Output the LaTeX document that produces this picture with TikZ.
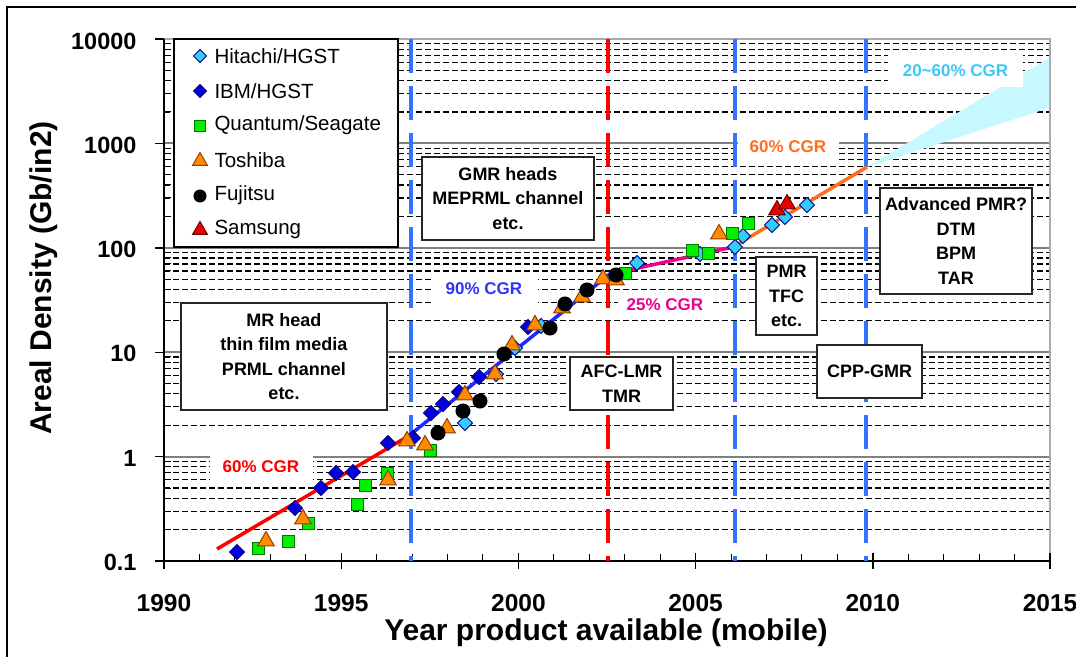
\documentclass[tikz,border=0pt]{standalone}
\usepackage{fontspec}
\setmainfont{Liberation Sans}
\usetikzlibrary{shapes.geometric}

\definecolor{hitachiFill}{RGB}{51,204,255}
\definecolor{hitachiEdge}{RGB}{0,0,130}
\definecolor{ibmFill}{RGB}{0,0,225}
\definecolor{ibmEdge}{RGB}{0,0,110}
\definecolor{quantumFill}{RGB}{0,240,0}
\definecolor{quantumEdge}{RGB}{0,120,0}
\definecolor{toshibaFill}{RGB}{255,140,0}
\definecolor{toshibaEdge}{RGB}{150,60,0}
\definecolor{samsungFill}{RGB}{230,0,0}
\definecolor{samsungEdge}{RGB}{110,0,0}
\definecolor{eraBlue}{RGB}{50,115,255}
\definecolor{trendBlue}{RGB}{30,40,255}
\definecolor{trendOrange}{RGB}{255,110,30}
\definecolor{fanCyan}{RGB}{200,248,255}
\definecolor{cgrCyan}{RGB}{60,200,250}
\definecolor{cgrBlue}{RGB}{50,50,255}
\definecolor{frameGray}{RGB}{170,170,170}

\tikzset{
  gridminor/.style={black, line width=1.2pt, dash pattern=on 6pt off 3pt},
  gridmajor/.style={gray, line width=2pt},
  eraline/.style={line width=4pt, dash pattern=on 34pt off 13pt},
  trend/.style={line width=3.5pt},
  mk/.style={inner sep=0pt, outer sep=0pt, line width=1pt},
  hitachi/.style={mk, diamond, aspect=1, minimum size=15pt, fill=hitachiFill, draw=hitachiEdge},
  ibm/.style={mk, diamond, aspect=1, minimum size=15pt, fill=ibmFill, draw=ibmEdge},
  quantum/.style={mk, rectangle, minimum size=12pt, fill=quantumFill, draw=quantumEdge},
  toshiba/.style={mk, regular polygon, regular polygon sides=3, minimum size=19pt, fill=toshibaFill, draw=toshibaEdge},
  fujitsu/.style={mk, circle, minimum size=14pt, fill=black, draw=black},
  samsung/.style={mk, regular polygon, regular polygon sides=3, minimum size=19pt, fill=samsungFill, draw=samsungEdge},
  infobox/.style={draw=black!85, line width=1.5pt, fill=white, align=center, inner sep=0pt,
    font=\fontsize{18}{24.5}\selectfont\bfseries},
  cgr/.style={fill=white, inner sep=0pt, font=\fontsize{17}{17}\selectfont\bfseries},
  ytick/.style={anchor=east, font=\fontsize{23.5}{23.5}\selectfont\bfseries},
  xtick/.style={font=\fontsize{24.5}{24.5}\selectfont\bfseries},
  axistitle/.style={font=\fontsize{30}{30}\selectfont\bfseries},
  legendtext/.style={anchor=west, font=\fontsize{20.5}{20.5}\selectfont},
}

\begin{document}
\begin{tikzpicture}[x=1pt, y=-1pt]
\useasboundingbox (0,0) rectangle (1076,656);
\fill[white] (0,0) rectangle (1076,656);

% outer frame
\draw[line width=2.2pt] (7,660) -- (7,7) -- (1080,7);

% horizontal grid: dashed minor lines and solid decade lines
\foreach \d in {0,...,4}{
  \foreach \m in {2,...,9}{
    \pgfmathsetmacro\yy{561-104.4*(\d+log10(\m))}
    \draw[gridminor] (164,\yy) -- (1050,\yy);
    \draw[black, line width=1pt] (164,\yy) -- (171,\yy);
  }
}
\foreach \yy in {456.6,352.2,247.8,143.4}{
  \draw[gridmajor] (164,\yy) -- (1050,\yy);
}

% plot frame and axes
\draw[frameGray, line width=2pt] (164,39) -- (1050,39) -- (1050,561);
\draw[black, line width=1.4pt] (164,39) -- (164,561) -- (1050,561);
\foreach \yy in {39,143.4,247.8,352.2,456.6,561}{
  \draw[black, line width=1.4pt] (155,\yy) -- (164,\yy);
}
\foreach \k in {0,...,25}{
  \pgfmathsetmacro\xx{164+35.44*\k}
  \pgfmathtruncatemacro\r{mod(\k,5)}
  \ifnum\r=0
    \draw[black, line width=1.4pt] (\xx,553) -- (\xx,569);
  \else
    \draw[black, line width=1pt] (\xx,554) -- (\xx,561);
  \fi
}

% technology era boundaries
\draw[eraline, eraBlue] (411,39) -- (411,561);
\draw[eraline, red] (608,39) -- (608,561);
\draw[eraline, eraBlue] (735,39) -- (735,561);
\draw[eraline, eraBlue] (866,39) -- (866,561);

% projected growth fan
\fill[fanCyan] (867,167) -- (1049,58) -- (1049,108) -- cycle;

% growth trend lines
\draw[trend, red] (217,549) -- (412,434);
\draw[trend, trendBlue] (411,434) -- (611,273);
\draw[trend, magenta] (611,274) -- (733,247);
\draw[trend, trendOrange] (733,247) -- (867,167);

% data points
\foreach \p [count=\i] in {(465,423),(496,374),(515,348),(541,326),(637,263),(700,254),(735,247),(743,236),(772,225),(785,217),(807,205)}
  \node[hitachi] (hit-\i) at \p {};
\foreach \p [count=\i] in {(237,552),(295,508),(321,488),(336,473),(353,472),(388,443),(413,438),(431,413),(443,404),(459,392),(479,377),(528,327)}
  \node[ibm] (ibm-\i) at \p {};
\foreach \p [count=\i] in {(258,548),(288,541),(308,523),(357,504),(365,485),(387,473),(430,450),(625,273),(692,250),(708,253),(732,233),(748,223)}
  \node[quantum] (qua-\i) at \p {};
\foreach \p [count=\i] in {(266,541),(303,519),(388,480),(407,441),(425,445),(447,428),(465,395),(495,374),(512,345),(535,325),(562,308),(582,297),(603,279),(616,280),(719,234)}
  \node[toshiba] (tos-\i) at \p {};
\foreach \p [count=\i] in {(438,433),(463,411),(480,401),(504,354),(550,328),(565,304),(587,290),(616,275)}
  \node[fujitsu] (fuj-\i) at \p {};
\foreach \p [count=\i] in {(777,210),(787,204)}
  \node[samsung] (sam-\i) at \p {};

% growth-rate labels
\node[cgr, text=red, minimum width=103pt, minimum height=25pt] (cgr-red) at (261,467) {60\% CGR};
\node[cgr, text=cgrBlue, minimum width=107pt, minimum height=27pt] (cgr-blue) at (484,289) {90\% CGR};
\node[cgr, text=magenta, minimum width=95pt, minimum height=24pt] (cgr-mag) at (665,305) {25\% CGR};
\node[cgr, text=trendOrange, minimum width=101pt, minimum height=30pt] (cgr-orange) at (788,147) {60\% CGR};
\node[cgr, text=cgrCyan, minimum width=135pt, minimum height=32pt] (cgr-cyan) at (955.5,71) {20\textasciitilde60\% CGR};

% technology boxes
\node[infobox, minimum width=206pt, minimum height=107pt] (mr) at (284,356.5) {MR head\\thin film media\\PRML channel\\etc.};
\node[infobox, minimum width=172pt, minimum height=83pt] (gmr) at (508,198.5) {GMR heads\\MEPRML channel\\etc.};
\node[infobox, minimum width=103pt, minimum height=53pt] (afc) at (621.5,383.5) {AFC-LMR\\TMR};
\node[infobox, minimum width=105pt, minimum height=53pt] (cpp) at (869.5,371.5) {CPP-GMR};
\node[infobox, minimum width=61pt, minimum height=78pt] (pmr) at (786.5,296) {PMR\\TFC\\etc.};
\node[infobox, minimum width=152pt, minimum height=106pt] (adv) at (956,241) {Advanced PMR?\\DTM\\BPM\\TAR};

% legend
\draw[black, line width=1.3pt, fill=white] (174,39) rectangle (398,247);
\node[hitachi, minimum size=13pt] (leg-hit) at (200,56) {};
\node[legendtext] (leg-hit-t) at (211,56) {Hitachi/HGST};
\node[ibm, minimum size=13pt] (leg-ibm) at (200,91) {};
\node[legendtext] (leg-ibm-t) at (211,91) {IBM/HGST};
\node[quantum, minimum size=11pt] (leg-qua) at (200,126) {};
\node[legendtext] (leg-qua-t) at (211,125) {Quantum/Seagate};
\node[toshiba, minimum size=17pt] (leg-tos) at (200,161) {};
\node[legendtext] (leg-tos-t) at (211,160) {Toshiba};
\node[fujitsu, minimum size=12pt] (leg-fuj) at (200,196) {};
\node[legendtext] (leg-fuj-t) at (211,195) {Fujitsu};
\node[samsung, minimum size=17pt] (leg-sam) at (200,230) {};
\node[legendtext] (leg-sam-t) at (211,229) {Samsung};

% tick labels
\foreach \v/\yy [count=\i] in {10000/41,1000/145,100/249,10/353,1/458,0.1/562}
  \node[ytick] (ylab-\i) at (140,\yy) {\v};
\foreach \v [count=\i] in {1990,1995,2000,2005,2010,2015}{
  \pgfmathsetmacro\xx{164+177.2*(\i-1)}
  \node[xtick] (xlab-\i) at (\xx,603) {\v};
}

% axis titles
\node[axistitle, rotate=90] (ytitle) at (44,278) {Areal Density (Gb/in2)};
\node[axistitle] (xtitle) at (606,633) {Year product available (mobile)};
\end{tikzpicture}
\end{document}
